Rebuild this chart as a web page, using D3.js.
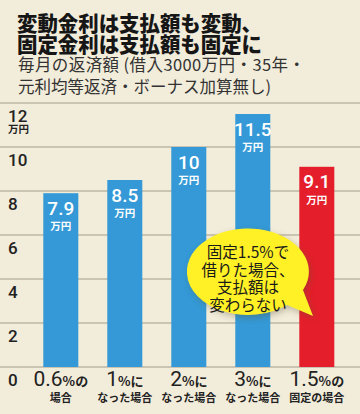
<!DOCTYPE html>
<html><head><meta charset="utf-8">
<script src="https://cdn.jsdelivr.net/npm/d3@7/dist/d3.min.js"></script>
<style>
html,body{margin:0;padding:0;background:#f2ecda;}
svg{display:block;}
</style></head>
<body><svg id="c" width="360" height="414"></svg>
<script>
const categoriesBig = ["0.6", "1", "2", "3", "1.5"];
const categoriesSmall = ["%の", "%に", "%に", "%に", "%の"];
const categoriesLine2 = ["場合", "なった場合", "なった場合", "なった場合", "固定の場合"];
const values = [7.9, 8.5, 10, 11.5, 9.1];
const valueLabels = ["7.9", "8.5", "10", "11.5", "9.1"];
const barColors = ["#3499d6", "#3499d6", "#3499d6", "#3499d6", "#e51e2b"];
const yTicks = [0, 2, 4, 6, 8, 10, 12];
const titleLines = ["変動金利は支払額も変動、", "固定金利は支払額も固定に"];
const subtitleLines = ["毎月の返済額 (借入3000万円・35年・", "元利均等返済・ボーナス加算無し)"];
const calloutLines = ["固定1.5%で", "借りた場合、", "支払額は", "変わらない"];

const svg = d3.select("#c");
const jp = "'Noto Sans CJK JP', 'Noto Sans', sans-serif";
const num = "Roboto, 'Liberation Sans', Arial, sans-serif";

svg.append("rect").attr("width",360).attr("height",414).attr("fill","#f2ecda");

const y = d3.scaleLinear().domain([0,12]).range([367,103]);
const x = d3.scaleBand().domain(d3.range(values.length)).range([28.8,348.8]).paddingInner(0.453).paddingOuter(0.2265);

// title
svg.append("g").selectAll("text").data(titleLines).join("text")
  .attr("x",17).attr("y",(d,i)=>30.5+i*21)
  .attr("font-family",jp).attr("font-weight",900).attr("font-size",21)
  .attr("textLength",245).attr("lengthAdjust","spacingAndGlyphs")
  .attr("fill","#161616").text(d=>d);
svg.append("g").selectAll("text").data(subtitleLines).join("text")
  .attr("x",18).attr("y",(d,i)=>71+i*22)
  .attr("font-family",jp).attr("font-weight",400).attr("font-size",16.5)
  .attr("fill","#333").text(d=>d)
  .filter((d,i)=>i===0).attr("textLength",287).attr("lengthAdjust","spacing");

// gridlines
svg.append("g").selectAll("line").data(yTicks).join("line")
  .attr("x1",0).attr("x2",360).attr("y1",d=>y(d)).attr("y2",d=>y(d))
  .attr("stroke","#bdb7a6").attr("stroke-width",1.5);

// y labels
svg.append("g").selectAll("text").data(yTicks).join("text")
  .attr("x",8).attr("y",d=>y(d)+18.5)
  .attr("font-family",num).attr("font-weight",500).attr("font-size",17)
  .attr("fill","#222").text(d=>d);
svg.append("text").attr("x",8).attr("y",y(12)+30)
  .attr("font-family",jp).attr("font-weight",700).attr("font-size",10.5)
  .attr("fill","#222").text("万円");

// bars
svg.append("g").selectAll("rect").data(values).join("rect")
  .attr("x",(d,i)=>x(i)).attr("width",x.bandwidth())
  .attr("y",d=>y(d)).attr("height",d=>y(0)-y(d))
  .attr("fill",(d,i)=>barColors[i]);

// value labels
const vl = svg.append("g");
vl.selectAll("text.v").data(values).join("text").attr("class","v")
  .attr("x",(d,i)=>x(i)+x.bandwidth()/2).attr("y",d=>y(d)+21.5)
  .attr("text-anchor","middle").attr("font-family",num).attr("font-weight",500)
  .attr("font-size",19).attr("fill","#fff").text((d,i)=>valueLabels[i]);
vl.selectAll("text.u").data(values).join("text").attr("class","u")
  .attr("x",(d,i)=>x(i)+x.bandwidth()/2).attr("y",d=>y(d)+37)
  .attr("text-anchor","middle").attr("font-family",jp).attr("font-weight",700)
  .attr("font-size",10.5).attr("fill","#fff").text("万円");

// x labels
const xl = svg.append("g");
xl.selectAll("text.l1").data(values).join("text").attr("class","l1")
  .attr("x",(d,i)=>x(i)+x.bandwidth()/2).attr("y",386)
  .attr("text-anchor","middle").attr("fill","#222")
  .each(function(d,i){
    const t = d3.select(this);
    t.append("tspan").attr("font-family",num).attr("font-weight",400).attr("font-size",21).text(categoriesBig[i]);
    t.append("tspan").attr("font-family",jp).attr("font-weight",700).attr("font-size",13).text(categoriesSmall[i]);
  });
xl.selectAll("text.l2").data(values).join("text").attr("class","l2")
  .attr("x",(d,i)=>x(i)+x.bandwidth()/2).attr("y",402)
  .attr("text-anchor","middle").attr("fill","#222")
  .attr("font-family",jp).attr("font-weight",700).attr("font-size",11)
  .text((d,i)=>categoriesLine2[i]);

// callout
const defs = svg.append("defs");
const f = defs.append("filter").attr("id","sh").attr("x","-20%").attr("y","-20%").attr("width","140%").attr("height","140%");
f.append("feGaussianBlur").attr("stdDeviation",3);
const cx = 248, cy = 274, rx = 61, ry = 43;
const bubble = `M ${cx-rx} ${cy} A ${rx} ${ry} 0 1 1 ${cx+rx-6} ${cy+16} L 313 316 L 287 305 A ${rx} ${ry} 0 0 1 ${cx-rx} ${cy} Z`;
svg.append("path").attr("d",bubble).attr("fill","rgba(90,80,50,0.35)").attr("transform","translate(2,3)").attr("filter","url(#sh)");
svg.append("path").attr("d",bubble).attr("fill","#fff126");
svg.append("g").selectAll("text").data(calloutLines).join("text")
  .attr("x",248).attr("y",(d,i)=>258+i*17.5)
  .attr("text-anchor","middle").attr("font-family",jp).attr("font-weight",400)
  .attr("font-size",15.5).attr("fill","#1a1a1a").text(d=>d);
</script></body></html>
